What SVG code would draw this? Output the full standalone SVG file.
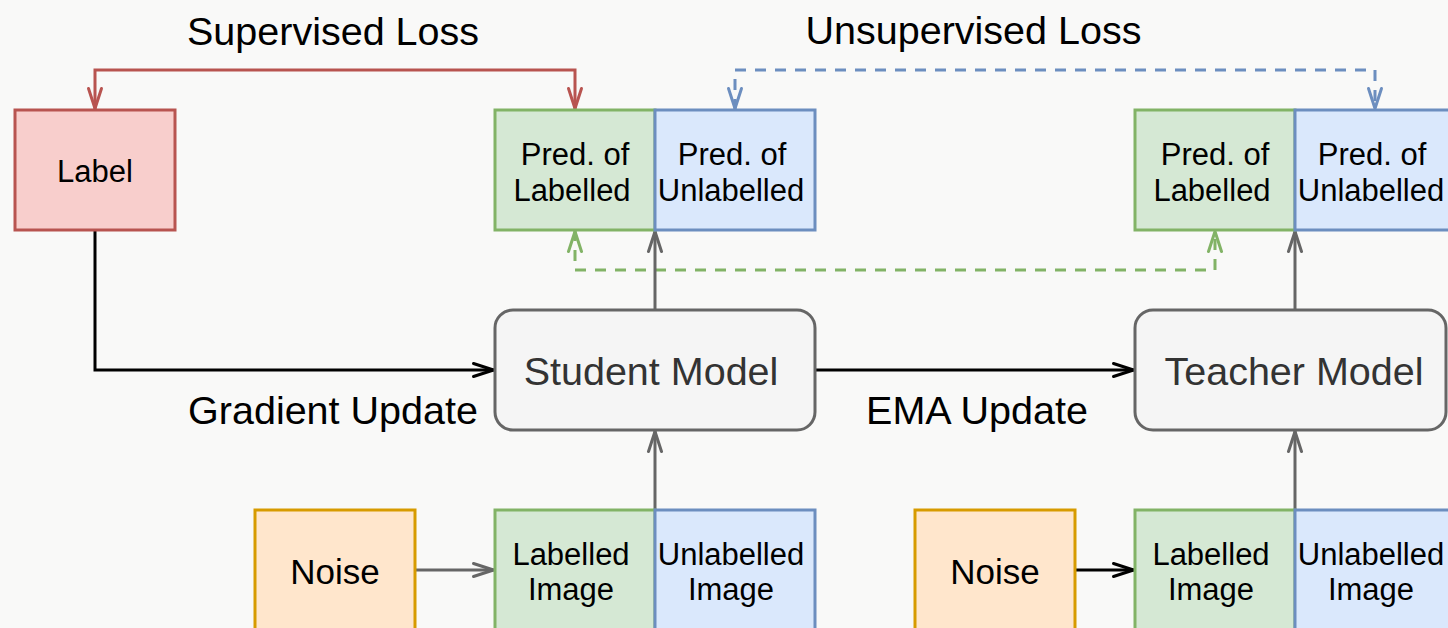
<svg xmlns="http://www.w3.org/2000/svg" width="1448" height="628" viewBox="0 0 1448 628">
  <style>
    .t { font-family: "Liberation Sans", Arial, sans-serif; fill: #000; text-anchor: middle; }
    .big { font-size: 39.5px; }
    .box { font-size: 31px; }
    .noise { font-size: 35px; }
    .model { font-size: 39.5px; fill: #333333; }
    .b { stroke-width: 3; }
    .c { fill: none; stroke-width: 3; }
    .dash { stroke-dasharray: 11 9; }
  </style>
  <defs>
    <marker id="aRed" viewBox="-24 -10 26 20" refX="1.5" refY="0" markerWidth="26" markerHeight="20" markerUnits="userSpaceOnUse" orient="auto-start-reverse">
      <path d="M-20,-6.5 L0,0 L-20,6.5" fill="none" stroke="#b85450" stroke-width="3" stroke-linejoin="round" stroke-linecap="round"/>
    </marker>
    <marker id="aBlue" viewBox="-24 -10 26 20" refX="1.5" refY="0" markerWidth="26" markerHeight="20" markerUnits="userSpaceOnUse" orient="auto-start-reverse">
      <path d="M-20,-6.5 L0,0 L-20,6.5" fill="none" stroke="#6c8ebf" stroke-width="3" stroke-linejoin="round" stroke-linecap="round"/>
    </marker>
    <marker id="aGreen" viewBox="-24 -10 26 20" refX="1.5" refY="0" markerWidth="26" markerHeight="20" markerUnits="userSpaceOnUse" orient="auto-start-reverse">
      <path d="M-20,-6.5 L0,0 L-20,6.5" fill="none" stroke="#82b366" stroke-width="3" stroke-linejoin="round" stroke-linecap="round"/>
    </marker>
    <marker id="aGray" viewBox="-24 -10 26 20" refX="1.5" refY="0" markerWidth="26" markerHeight="20" markerUnits="userSpaceOnUse" orient="auto-start-reverse">
      <path d="M-20,-6.5 L0,0 L-20,6.5" fill="none" stroke="#666666" stroke-width="3" stroke-linejoin="round" stroke-linecap="round"/>
    </marker>
    <marker id="aBlack" viewBox="-24 -10 26 20" refX="1.5" refY="0" markerWidth="26" markerHeight="20" markerUnits="userSpaceOnUse" orient="auto-start-reverse">
      <path d="M-20,-6.5 L0,0 L-20,6.5" fill="none" stroke="#000000" stroke-width="3" stroke-linejoin="round" stroke-linecap="round"/>
    </marker>
  </defs>

  <rect x="0" y="0" width="1448" height="628" fill="#f9f9f8"/>

  <g id="connectors">
    <path class="c" stroke="#b85450" d="M95,110 L95,70 L575,70 L575,110" marker-start="url(#aRed)" marker-end="url(#aRed)"/>
    <path class="c dash" stroke="#6c8ebf" d="M735,110 L735,70 L1375,70 L1375,110" marker-start="url(#aBlue)" marker-end="url(#aBlue)"/>
    <path class="c dash" stroke="#82b366" d="M575,230 L575,270 L1215,270 L1215,230" marker-start="url(#aGreen)" marker-end="url(#aGreen)"/>
    <path class="c" stroke="#666666" d="M655,310 L655,230" marker-end="url(#aGray)"/>
    <path class="c" stroke="#666666" d="M655,510 L655,430" marker-end="url(#aGray)"/>
    <path class="c" stroke="#666666" d="M1295,310 L1295,230" marker-end="url(#aGray)"/>
    <path class="c" stroke="#666666" d="M1295,510 L1295,430" marker-end="url(#aGray)"/>
    <path class="c" stroke="#666666" d="M415,570 L495,570" marker-end="url(#aGray)"/>
    <path class="c" stroke="#000000" d="M95,230 L95,370 L495,370" marker-end="url(#aBlack)"/>
    <path class="c" stroke="#000000" d="M815,370 L1135,370" marker-end="url(#aBlack)"/>
    <path class="c" stroke="#000000" d="M1075,570 L1135,570" marker-end="url(#aBlack)"/>
  </g>

  <g id="labels">
    <text class="t big" x="333" y="45">Supervised Loss</text>
    <text class="t big" x="973.5" y="44">Unsupervised Loss</text>
    <text class="t big" x="333" y="424">Gradient Update</text>
    <text class="t big" x="977" y="424">EMA Update</text>
  </g>

  <g id="label">
    <rect class="b" x="15" y="110" width="160" height="120" fill="#f8cecc" stroke="#b85450"/>
    <text class="t box" x="95" y="182">Label</text>
  </g>

  <g id="student-pred-labelled">
    <rect class="b" x="495" y="110" width="160" height="120" fill="#d5e8d4" stroke="#82b366"/>
    <text class="t box" x="575" y="165">Pred. of</text>
    <text class="t box" x="572" y="201">Labelled</text>
  </g>
  <g id="student-pred-unlabelled">
    <rect class="b" x="655" y="110" width="160" height="120" fill="#dae8fc" stroke="#6c8ebf"/>
    <text class="t box" x="732" y="165">Pred. of</text>
    <text class="t box" x="731" y="201">Unlabelled</text>
  </g>

  <g id="teacher-pred-labelled">
    <rect class="b" x="1135" y="110" width="160" height="120" fill="#d5e8d4" stroke="#82b366"/>
    <text class="t box" x="1215" y="165">Pred. of</text>
    <text class="t box" x="1212" y="201">Labelled</text>
  </g>
  <g id="teacher-pred-unlabelled">
    <rect class="b" x="1295" y="110" width="160" height="120" fill="#dae8fc" stroke="#6c8ebf"/>
    <text class="t box" x="1372" y="165">Pred. of</text>
    <text class="t box" x="1371" y="201">Unlabelled</text>
  </g>

  <g id="student-model">
    <rect class="b" x="495" y="310" width="320" height="120" rx="18" fill="#f5f5f5" stroke="#666666"/>
    <text class="t model" x="651" y="385">Student Model</text>
  </g>
  <g id="teacher-model">
    <rect class="b" x="1135" y="310" width="311" height="120" rx="18" fill="#f5f5f5" stroke="#666666"/>
    <text class="t model" x="1294" y="385">Teacher Model</text>
  </g>

  <g id="noise-student">
    <rect class="b" x="255" y="510" width="160" height="130" fill="#ffe6cc" stroke="#d79b00"/>
    <text class="t noise" x="335" y="584">Noise</text>
  </g>
  <g id="noise-teacher">
    <rect class="b" x="915" y="510" width="160" height="130" fill="#ffe6cc" stroke="#d79b00"/>
    <text class="t noise" x="995" y="584">Noise</text>
  </g>

  <g id="student-labelled-image">
    <rect class="b" x="495" y="510" width="160" height="130" fill="#d5e8d4" stroke="#82b366"/>
    <text class="t box" x="571" y="565">Labelled</text>
    <text class="t box" x="571" y="600">Image</text>
  </g>
  <g id="student-unlabelled-image">
    <rect class="b" x="655" y="510" width="160" height="130" fill="#dae8fc" stroke="#6c8ebf"/>
    <text class="t box" x="731" y="565">Unlabelled</text>
    <text class="t box" x="731" y="600">Image</text>
  </g>

  <g id="teacher-labelled-image">
    <rect class="b" x="1135" y="510" width="160" height="130" fill="#d5e8d4" stroke="#82b366"/>
    <text class="t box" x="1211" y="565">Labelled</text>
    <text class="t box" x="1211" y="600">Image</text>
  </g>
  <g id="teacher-unlabelled-image">
    <rect class="b" x="1295" y="510" width="160" height="130" fill="#dae8fc" stroke="#6c8ebf"/>
    <text class="t box" x="1371" y="565">Unlabelled</text>
    <text class="t box" x="1371" y="600">Image</text>
  </g>
</svg>
